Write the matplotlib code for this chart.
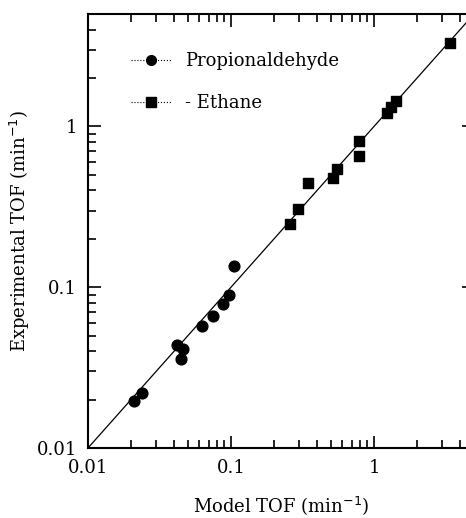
import numpy as np
import matplotlib.pyplot as plt
from matplotlib.lines import Line2D
from matplotlib.ticker import FixedLocator, NullFormatter

plt.rcParams['font.family'] = 'DejaVu Serif'

# Propionaldehyde: model vs experimental TOF (min^-1)
prop_model = [0.021, 0.0239, 0.0419, 0.0461, 0.0447, 0.0627, 0.0748, 0.0879, 0.0969, 0.105]
prop_exp = [0.0196, 0.0220, 0.0438, 0.0414, 0.0359, 0.0575, 0.0664, 0.0789, 0.0897, 0.136]

# Ethane
eth_model = [0.259, 0.294, 0.345, 0.517, 0.551, 0.785, 0.785, 1.23, 1.31, 1.43, 3.40]
eth_exp = [0.249, 0.308, 0.442, 0.481, 0.547, 0.806, 0.659, 1.22, 1.33, 1.43, 3.29]

parity = [0.01, 5.0]
tick_vals = [0.01, 0.1, 1]
tick_labels = ['0.01', '0.1', '1']

fig = plt.figure(figsize=(4.66, 5.18), dpi=100)
ax = fig.add_axes([0.1888, 0.1351, 0.8283, 0.8378])

ax.plot(parity, parity, color='black', lw=0.9)
ax.scatter(prop_model, prop_exp, marker='o', s=60, color='black', zorder=3)
ax.scatter(eth_model, eth_exp, marker='s', s=55, color='black', zorder=3)

ax.set_xscale('log')
ax.set_yscale('log')
ax.set_xlim(0.01, 5)
ax.set_ylim(0.01, 5)

# minor ticks at 2..9 of each decade
minor_vals = [m * 10.0 ** e for e in (-2, -1, 0) for m in range(2, 10)]
for axis in (ax.xaxis, ax.yaxis):
    axis.set_major_locator(FixedLocator(tick_vals))
    axis.set_minor_locator(FixedLocator(minor_vals))
    axis.set_minor_formatter(NullFormatter())
ax.set_xticklabels(tick_labels)
ax.set_yticklabels(tick_labels)
ax.tick_params(which='both', direction='in', top=True, right=True, labelsize=13, width=1.2)
ax.tick_params(which='major', length=9, pad=8)
ax.tick_params(which='minor', length=6)
for s in ax.spines.values():
    s.set_linewidth(1.5)

ax.set_xlabel('Model TOF (min$^{-1}$)', fontsize=13, labelpad=12)
ax.set_ylabel('Experimental TOF (min$^{-1}$)', fontsize=13, labelpad=3)

handles = [
    Line2D([], [], color='black', lw=0.8, ls=':', marker='o', markersize=7),
    Line2D([], [], color='black', lw=0.8, ls=':', marker='s', markersize=7),
]
ax.legend(handles, ['Propionaldehyde', '- Ethane'], loc='upper left', frameon=False,
          fontsize=13, handlelength=2.2, handletextpad=0.8, labelspacing=1.35,
          bbox_to_anchor=(0.07, 0.95))

fig.savefig('out.png', dpi=100)
